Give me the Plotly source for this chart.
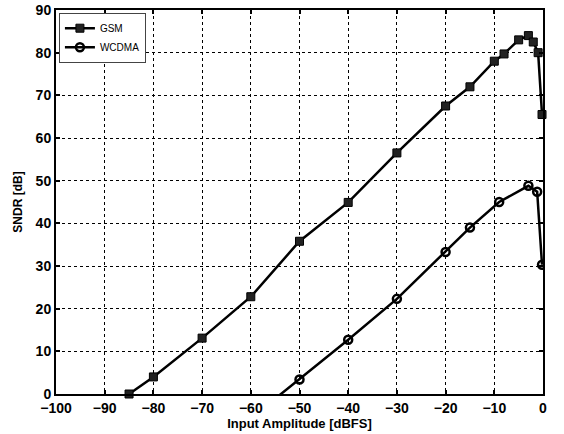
import plotly.graph_objects as go

gsm_x = [-85, -80, -70, -60, -50, -40, -30, -20, -15, -10, -8, -5, -3, -2, -1, -0.2]
gsm_y = [0, 4, 13.1, 22.8, 35.8, 44.9, 56.5, 67.5, 72, 78, 79.7, 83, 84, 82.5, 80, 65.5]

wcdma_x = [-60, -50, -40, -30, -20, -15, -9, -3, -1.2, -0.2]
wcdma_y = [-5.7, 3.4, 12.7, 22.3, 33.3, 39, 45, 48.8, 47.4, 30.3]

x_ticks = list(range(-100, 1, 10))
x_tick_labels = ["\u2212%d" % abs(v) if v < 0 else "0" for v in x_ticks]
y_ticks = list(range(0, 91, 10))

fig = go.Figure()
fig.add_trace(go.Scatter(
    x=gsm_x, y=gsm_y, mode="lines+markers", name="GSM",
    line=dict(color="black", width=2.5),
    marker=dict(symbol="square", size=8, color="#222", line=dict(color="black", width=1)),
    cliponaxis=False,
))
fig.add_trace(go.Scatter(
    x=wcdma_x, y=wcdma_y, mode="lines+markers", name="WCDMA",
    line=dict(color="black", width=2.5),
    marker=dict(symbol="circle-open", size=8, color="black", line=dict(color="black", width=2.5)),
    cliponaxis=True,
))

font_family = "Liberation Sans, Arial, sans-serif"
axis_common = dict(
    showline=True, linecolor="black", linewidth=2, mirror="ticks",
    ticks="inside", ticklen=4, tickwidth=1.5, tickcolor="black",
    showgrid=True, gridcolor="black", gridwidth=1, griddash="dot",
    zeroline=False, automargin=False,
    tickfont=dict(family=font_family, size=14, color="black", weight="bold"),
)

fig.update_layout(
    width=564, height=434,
    margin=dict(l=56, r=21, t=10, b=40),
    paper_bgcolor="white", plot_bgcolor="white",
    showlegend=True,
    legend=dict(
        x=0.006, y=0.993, xanchor="left", yanchor="top",
        bgcolor="white", bordercolor="#444", borderwidth=1,
        font=dict(family=font_family, size=10, color="black"),
        itemwidth=30, tracegroupgap=0,
    ),
    xaxis=dict(
        range=[-100, 0], tickvals=x_ticks, ticktext=x_tick_labels,
        title=dict(text="Input Amplitude [dBFS]", standoff=0,
                   font=dict(family=font_family, size=13, color="black", weight="bold")),
        **axis_common,
    ),
    yaxis=dict(
        range=[0, 90], tickvals=y_ticks,
        title=dict(text="SNDR [dB]", standoff=10,
                   font=dict(family=font_family, size=12, color="black", weight="bold")),
        **axis_common,
    ),
)

fig.write_html("out.html", config={"displayModeBar": False},
               post_script="document.body.style.margin='0';document.body.style.overflow='hidden';")
